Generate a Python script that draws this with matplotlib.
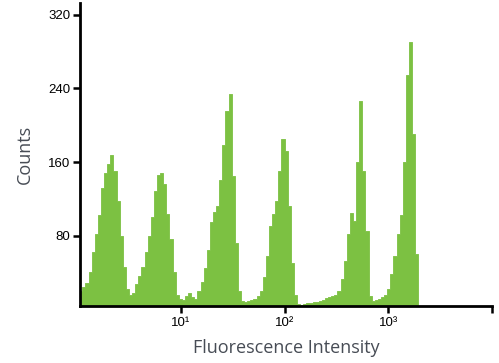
import numpy as np
import matplotlib
matplotlib.use("Agg")
import matplotlib.pyplot as plt

# Histogram data: counts per log-spaced bin (bin width 0.03 decades, starting at 10^0.02)
log_start = 0.02
log_width = 0.03
counts = [
    20, 24, 28, 40, 62, 82, 102, 132, 148, 158,
    168, 150, 118, 80, 46, 22, 15, 18, 27, 36,
    46, 62, 80, 100, 128, 146, 148, 136, 104, 76,
    40, 16, 11, 10, 14, 18, 13, 11, 20, 30,
    45, 64, 95, 106, 112, 140, 178, 215, 234, 145,
    72, 20, 9, 8, 9, 10, 11, 14, 20, 35,
    58, 90, 103, 118, 150, 185, 172, 112, 50, 15,
    6, 5, 6, 7, 7, 8, 8, 9, 10, 12,
    13, 14, 15, 20, 33, 52, 82, 105, 96, 160,
    226, 150, 85, 14, 9, 10, 11, 13, 16, 22,
    38, 58, 82, 102, 160, 255, 290, 190, 60,
]
y_ticks = [80, 160, 240, 320]
x_ticks = [10, 100, 1000, 10000]
x_tick_labels = ["10\u00b9", "10\u00b2", "10\u00b3", ""]

edges = 10 ** (log_start + log_width * np.arange(len(counts) + 1))
green = "#7cc142"

fig = plt.figure(figsize=(4.99, 3.63), dpi=100)
ax = fig.add_axes([0.160, 0.157, 0.826, 0.835])

ax.fill_between(edges, list(counts) + [counts[-1]], 0, step="post",
                color=green, edgecolor=green, linewidth=0.6)

ax.set_xscale("log")
ax.set_xlim(10 ** 0.026, 1e4)
ax.set_ylim(3.5, 333)

ax.set_xticks(x_ticks)
ax.set_xticklabels(x_tick_labels)
ax.xaxis.set_minor_locator(matplotlib.ticker.NullLocator())
ax.set_yticks(y_ticks)

for s in ["top", "right"]:
    ax.spines[s].set_visible(False)
for s in ["left", "bottom"]:
    ax.spines[s].set_linewidth(2)
    ax.spines[s].set_color("black")
    ax.spines[s].set_zorder(5)

ax.tick_params(axis="both", direction="out", length=5, width=1.8, color="black",
               labelsize=9.5, pad=2)
ax.tick_params(axis="x", pad=3)
for lab in ax.get_xticklabels() + ax.get_yticklabels():
    lab.set_family(["Liberation Sans", "DejaVu Sans"])

ax.set_xlabel("Fluorescence Intensity", fontsize=13, color="#474c55",
              family=["Open Sans", "DejaVu Sans"], labelpad=7)
ax.set_ylabel("Counts", fontsize=13, color="#474c55",
              family=["Open Sans", "DejaVu Sans"], labelpad=10)

fig.savefig("out.png", dpi=100)
